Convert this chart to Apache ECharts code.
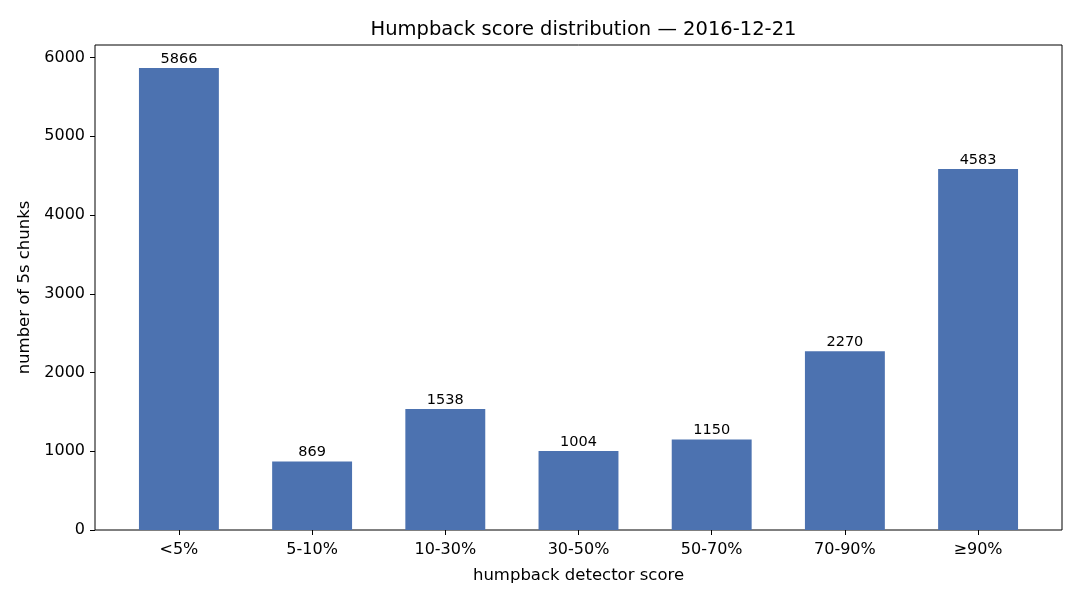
<!DOCTYPE html>
<html><head><meta charset="utf-8">
<script src="https://cdn.jsdelivr.net/npm/echarts@6/dist/echarts.min.js"></script>
<style>html,body{margin:0;padding:0;background:#fff}#c{width:1080px;height:600px}</style>
</head><body><div id="c"></div>
<script>
const categories = ['<5%', '5-10%', '10-30%', '30-50%', '50-70%', '70-90%', '≥90%'];
const counts = [5866, 869, 1538, 1004, 1150, 2270, 4583];
const yTicks = [0, 1000, 2000, 3000, 4000, 5000, 6000];
const titleText = 'Humpback score distribution — 2016-12-21';
const xTitle = 'humpback detector score';
const yTitle = 'number of 5s chunks';

const yMax = Math.max(...counts) * 1.05;
const font = 'DejaVu Sans';
const chart = echarts.init(document.getElementById('c'), null, {renderer: 'canvas'});
const frameL = 95, frameR = 1062, frameT = 45, frameB = 530;
const band = (frameR - frameL) / (categories.length - 0.4 + 0.66);
const innerL = frameL + 0.13 * band;
const innerW = band * categories.length;
chart.setOption({
  animation: false,
  textStyle: {fontFamily: font},
  title: {text: titleText, left: (frameL + frameR) / 2, top: 15, textAlign: 'center',
    textStyle: {fontFamily: font, fontWeight: 'normal', fontSize: 19.5, color: '#000'}},
  grid: [
    {left: frameL, top: frameT, width: frameR - frameL, height: frameB - frameT, show: true,
     borderColor: '#000', borderWidth: 1, backgroundColor: 'transparent', containLabel: false},
    {left: innerL, top: frameT, width: innerW, height: frameB - frameT, containLabel: false}
  ],
  xAxis: [
    {gridIndex: 0, type: 'value', min: 0, max: 1, show: false},
    {gridIndex: 1, type: 'category', data: categories,
     axisLine: {show: false},
     axisTick: {show: true, alignWithLabel: true, length: 5, lineStyle: {color: '#000'}},
     axisLabel: {color: '#000', fontSize: 16, fontFamily: font, margin: 12},
     name: xTitle, nameLocation: 'middle', nameGap: 37,
     nameTextStyle: {color: '#000', fontSize: 16.5, fontFamily: font}}
  ],
  yAxis: [
    {gridIndex: 0, type: 'value', min: 0, max: yMax, interval: 1000,
     axisLine: {show: false},
     axisTick: {show: true, length: 5, lineStyle: {color: '#000'}},
     axisLabel: {color: '#000', fontSize: 16, fontFamily: font, margin: 10,
       showMaxLabel: false,
       formatter: v => yTicks.includes(v) ? String(v) : ''},
     splitLine: {show: false},
     name: yTitle, nameLocation: 'middle', nameGap: 61,
     nameTextStyle: {color: '#000', fontSize: 16.5, fontFamily: font}},
    {gridIndex: 1, type: 'value', min: 0, max: yMax, show: false, splitLine: {show: false}}
  ],
  series: [{
    type: 'bar', xAxisIndex: 1, yAxisIndex: 1, data: counts, barWidth: '60%',
    itemStyle: {color: '#4c72b0'},
    label: {show: true, position: 'top', distance: 1.5, color: '#000', fontSize: 14.5, fontFamily: font}
  }]
});
</script></body></html>
